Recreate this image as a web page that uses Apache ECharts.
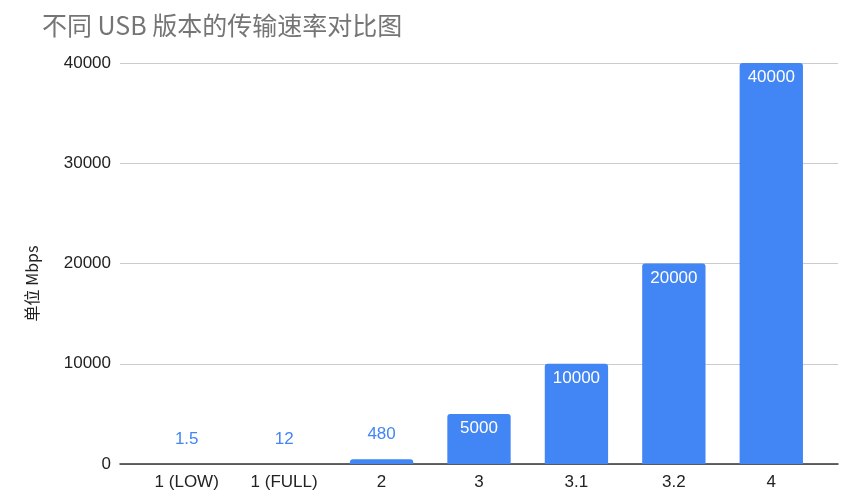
<!DOCTYPE html>
<html><head><meta charset="utf-8">
<script src="https://cdn.jsdelivr.net/npm/echarts@6/dist/echarts.min.js"></script>
<style>html,body{margin:0;padding:0;background:#fff}#c{width:861px;height:500px}</style>
</head><body><div id="c"></div>
<script>
const categories = ['1 (LOW)', '1 (FULL)', '2', '3', '3.1', '3.2', '4'];
const speeds = [1.5, 12, 480, 5000, 10000, 20000, 40000];
const insideLabel = [false, false, false, true, true, true, true];
const yMax = 40000, yStep = 10000;

const chart = echarts.init(document.getElementById('c'));
const blue = '#4285F4';
const font = 'Liberation Sans';
chart.setOption({
  animation: false,
  title: {
    text: '不同 USB 版本的传输速率对比图',
    left: 37, top: 8,
    textStyle: { fontFamily: 'Noto Sans CJK SC', fontSize: 25, fontWeight: 'normal', color: '#757575' }
  },
  grid: [
    { left: 120, right: 23, top: 63, bottom: 36 },
    { left: 138, right: 41, top: 63, bottom: 36 }
  ],
  xAxis: [
    { type: 'value', gridIndex: 0, min: 0, max: 1, show: true,
      axisLine: { show: true, lineStyle: { color: '#333', width: 1.5 } },
      axisTick: { show: false }, axisLabel: { show: false }, splitLine: { show: false } },
    { type: 'category', gridIndex: 1, data: categories,
      axisTick: { show: false },
      axisLine: { show: false },
      axisLabel: { color: '#222', fontSize: 17, fontFamily: font, margin: 10 } }
  ],
  yAxis: [
    { type: 'value', gridIndex: 0, min: 0, max: yMax, interval: yStep,
      name: '单位 Mbps', nameLocation: 'middle', nameGap: 80, nameRotate: 90,
      nameTextStyle: { fontFamily: 'Noto Sans CJK SC', fontSize: 16, color: '#222', padding: [0, 40, 0, 0] },
      axisLine: { show: false }, axisTick: { show: false },
      axisLabel: { color: '#222', fontSize: 17, fontFamily: font, margin: 9, formatter: v => String(v) },
      splitLine: { lineStyle: { color: '#ccc', width: 1.2 } } },
    { type: 'value', gridIndex: 1, min: 0, max: yMax, interval: yStep, show: false,
      splitLine: { show: false } }
  ],
  series: [{
    type: 'bar', xAxisIndex: 1, yAxisIndex: 1, barWidth: '65%', z: 3,
    data: speeds.map((v, i) => ({
      value: v,
      label: insideLabel[i]
        ? { show: true, position: 'insideTop', distance: 6, color: '#fff' }
        : { show: true, position: 'top', distance: 16, color: blue }
    })),
    itemStyle: { color: blue, borderRadius: [3, 3, 0, 0] },
    label: { fontSize: 17, fontFamily: font }
  }]
});
</script></body></html>
